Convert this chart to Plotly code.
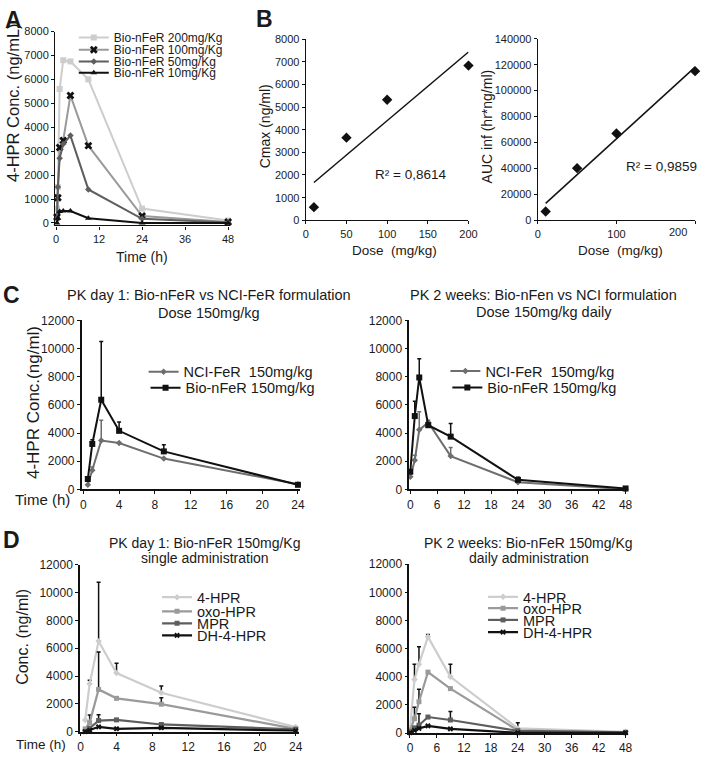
import numpy as np
import plotly.graph_objects as go

nan = float("nan")

# ---------------- data ----------------
# Panel A: 4-HPR plasma conc. by dose
A_time = [0.25, 0.5, 1, 2, 4, 9, 24, 48]
A_200 = [600, 1500, 5600, 6800, 6750, 6000, 600, 100]
A_100 = [250, 1050, 3150, 3450, 5330, 3230, 290, 40]
A_50 = [200, 1500, 2700, 3300, 3650, 1400, 170, 20]
A_10 = [0, 200, 480, 500, 500, 200, 0, 0]
A_names = ["Bio-nFeR 200mg/Kg", "Bio-nFeR 100mg/Kg", "Bio-nFeR 50mg/Kg", "Bio-nFeR 10mg/Kg"]

# Panel B: dose proportionality
B_dose = [10, 50, 100, 200]
B_cmax = [580, 3650, 5320, 6830]
B_auc = [6800, 40200, 67000, 115000]
B_r2 = ["R² = 0,8614", "R² = 0,9859"]

# Panel C left: day 1
C1_time = [0.5, 1, 2, 4, 9, 24]
C1_nci = [330, 1370, 3470, 3300, 2190, 370]
C1_nci_err = [nan, 230, 1440, nan, nan, nan]
C1_bio = [740, 3230, 6370, 4160, 2700, 330]
C1_bio_err = [nan, 300, 4140, 630, 470, nan]

# Panel C right: 2 weeks
C2_time = [0, 1, 2, 4, 9, 24, 48]
C2_nci = [910, 2070, 4230, 4750, 2370, 510, 20]
C2_nci_err = [nan, 350, 1280, 160, 600, nan, nan]
C2_bio = [1260, 5210, 7950, 4560, 3750, 680, 70]
C2_bio_err = [nan, 1050, 1330, nan, 930, 190, nan]
C_names = ["NCI-FeR  150mg/kg", "Bio-nFeR 150mg/kg"]

# Panel D left: metabolites day 1
D1_time = [0.5, 1, 2, 4, 9, 24]
D1_4hpr = [850, 3450, 6500, 4220, 2800, 330]
D1_4hpr_err = [nan, 250, 4250, 700, 480, nan]
D1_oxo = [200, 650, 3040, 2400, 1980, 200]
D1_oxo_err = [nan, 550, 2700, nan, 470, nan]
D1_mpr = [20, 250, 800, 850, 520, 170]
D1_mpr_err = [nan, nan, 420, nan, nan, nan]
D1_dh = [0, 100, 350, 210, 280, 70]

# Panel D right: metabolites 2 weeks
D2_time = [0, 1, 2, 4, 9, 24, 48]
D2_4hpr = [330, 3810, 4900, 6840, 4000, 330, 90]
D2_4hpr_err = [nan, 1090, 1240, 160, 900, 410, nan]
D2_oxo = [200, 1020, 2230, 4330, 3160, 190, 50]
D2_oxo_err = [nan, 820, 890, nan, nan, nan, nan]
D2_mpr = [90, 370, 560, 1140, 930, 160, 50]
D2_mpr_err = [nan, nan, 810, nan, 600, nan, nan]
D2_dh = [20, 190, 330, 510, 300, 20, 20]
D_names = ["4-HPR", "oxo-HPR", "MPR", "DH-4-HPR"]

# ---------------- helpers ----------------
W, H = 709, 760
FONT = "Liberation Sans, Arial, Helvetica, sans-serif"
TXT = "#1a1a1a"
LIGHT, MID, DARK, BLACK = "#cdcdcd", "#9a9a9a", "#5e5e5e", "#111111"


def fx(px):
    return px / W


def fy(py):
    return 1 - py / H


fig = go.Figure()
layout = dict(width=W, height=H, autosize=False, margin=dict(l=0, r=0, t=0, b=0),
              paper_bgcolor="white", plot_bgcolor="white", showlegend=True,
              font=dict(family=FONT, color=TXT))

panels = [
    # key, x domain px, y domain px (top,bottom), xrange, yrange, xticks, yticks, font size, line width
    ("A", (53, 231), (25, 222.5), (-0.27, 48.55), (-103, 8000), [0, 12, 24, 36, 48], list(range(0, 8001, 1000)), 11, 1.2),
    ("B1", (308, 473.5), (32.7, 217.3), (0, 200), (0, 8000), [0, 50, 100, 150, 200], list(range(0, 8001, 1000)), 11, 1.3),
    ("B2", (544, 704), (32.3, 217.3), (0, 200), (0, 140000), [0, 100, 200], list(range(0, 140001, 20000)), 11, 1.3),
    ("C1", (80, 302), (319.3, 491.5), (-0.19, 24.22), (0, 12000), list(range(0, 25, 4)), list(range(0, 12001, 2000)), 12, 1.5),
    ("C2", (413.3, 636), (319.3, 491.5), (-0.22, 48.59), (0, 12000), list(range(0, 49, 6)), list(range(0, 12001, 2000)), 12, 1.5),
    ("D1", (78.3, 301), (568.3, 738.3), (-0.08, 24.36), (0, 12000), list(range(0, 25, 4)), list(range(0, 12001, 2000)), 12, 1.5),
    ("D2", (413.3, 636), (567.7, 739.7), (-0.15, 48.59), (0, 12000), list(range(0, 49, 6)), list(range(0, 12001, 2000)), 12, 1.5),
]
axref = {}
for i, (key, xd, yd, xr, yr, xt, yt, fs, lw) in enumerate(panels):
    n = "" if i == 0 else str(i + 1)
    axref[key] = ("x" + n, "y" + n)
    xtext = [str(v) for v in xt]
    if key == "B2":
        xtext[-1] = ""  # the 200 label is drawn shifted left as in the original
    common = dict(showgrid=False, zeroline=False, showline=True, linecolor=BLACK, linewidth=lw,
                  ticks="outside", ticklen=3, tickwidth=1, tickcolor=BLACK,
                  tickfont=dict(family=FONT, size=fs, color=TXT))
    layout["xaxis" + n] = dict(domain=[fx(xd[0]), fx(xd[1])], range=list(xr), tickmode="array",
                               tickvals=xt, ticktext=xtext, anchor="y" + n, **common)
    layout["yaxis" + n] = dict(domain=[fy(yd[1]), fy(yd[0])], range=list(yr), tickmode="array",
                               tickvals=yt, ticktext=[str(v) for v in yt], anchor="x" + n, **common)

legend_count = [0]


def new_legend(text_x, y_px, size):
    legend_count[0] += 1
    name = "legend" if legend_count[0] == 1 else "legend%d" % legend_count[0]
    layout[name] = dict(x=fx(text_x - 40), y=fy(y_px), xanchor="left", yanchor="middle",
                        bgcolor="rgba(0,0,0,0)", borderwidth=0, itemwidth=30, tracegroupgap=0,
                        font=dict(family=FONT, size=size, color=TXT))
    return name


def err(vals, color):
    return dict(type="data", symmetric=False, array=vals, arrayminus=[0] * len(vals),
                color=color, thickness=1.5, width=2)


def series(key, x, y, name, color, symbol, msize, mcolor=None, lw=2, e=None, ecolor=None, leg=None):
    xa, ya = axref[key]
    tr = go.Scatter(x=x, y=y, name=name, mode="lines+markers", xaxis=xa, yaxis=ya,
                    line=dict(color=color, width=lw),
                    marker=dict(symbol=symbol, size=msize, color=mcolor or color, line=dict(width=0)),
                    cliponaxis=False, showlegend=leg is not None)
    if leg is not None:
        tr.update(legend=leg)
    if e is not None:
        tr.update(error_y=err(e, ecolor or color))
    fig.add_trace(tr)


# ---- Panel A ----
A_series = [A_200, A_100, A_50, A_10]
A_style = [(LIGHT, "square", 6, LIGHT), (MID, "x", 7, BLACK), (DARK, "diamond", 5, DARK), (BLACK, "triangle-up", 6, BLACK)]
A_rows = [31, 43.5, 55.5, 67]
for vals, nm, (c, s, ms, mc), ry in zip(A_series, A_names, A_style, A_rows):
    series("A", A_time, vals, nm, c, s, ms, mc, lw=2, leg=new_legend(112, ry, 12))

# ---- Panel B ----
for key, vals in (("B1", B_cmax), ("B2", B_auc)):
    xa, ya = axref[key]
    slope, icpt = np.polyfit(B_dose, vals, 1)
    xs = [min(B_dose), max(B_dose)]
    fig.add_trace(go.Scatter(x=xs, y=[slope * v + icpt for v in xs], mode="lines", xaxis=xa, yaxis=ya,
                             line=dict(color=BLACK, width=1.5), showlegend=False, cliponaxis=False))
    fig.add_trace(go.Scatter(x=B_dose, y=vals, mode="markers", xaxis=xa, yaxis=ya,
                             marker=dict(symbol="diamond", size=8, color=BLACK), showlegend=False,
                             cliponaxis=False))

# ---- Panel C ----
NCI_C = "#6e6e6e"
series("C1", C1_time, C1_nci, C_names[0], NCI_C, "diamond", 5, e=C1_nci_err, leg=new_legend(183, 371.7, 14.5))
series("C1", C1_time, C1_bio, C_names[1], BLACK, "square", 6, e=C1_bio_err, leg=new_legend(185, 388, 14.5))
series("C2", C2_time, C2_nci, C_names[0], NCI_C, "diamond", 5, e=C2_nci_err, leg=new_legend(490, 371, 14.5))
series("C2", C2_time, C2_bio, C_names[1], BLACK, "square", 6, e=C2_bio_err, leg=new_legend(492, 387.7, 14.5))

# ---- Panel D ----
D_style = [(LIGHT, "diamond", 5), (MID, "square", 5), (DARK, "square", 5), (BLACK, "x", 5)]
D1_vals = [(D1_4hpr, D1_4hpr_err), (D1_oxo, D1_oxo_err), (D1_mpr, D1_mpr_err), (D1_dh, None)]
D2_vals = [(D2_4hpr, D2_4hpr_err), (D2_oxo, D2_oxo_err), (D2_mpr, D2_mpr_err), (D2_dh, None)]
D1_rows = [601.3, 615.7, 628, 640.3]
D2_rows = [601, 612.5, 624.5, 637]
for (v, e), nm, (c, s, ms), ry in zip(D1_vals, D_names, D_style, D1_rows):
    series("D1", D1_time, v, nm, c, s, ms, e=e, ecolor=BLACK, lw=2.2, leg=new_legend(196.7, ry, 14.5))
for (v, e), nm, (c, s, ms), ry in zip(D2_vals, D_names, D_style, D2_rows):
    series("D2", D2_time, v, nm, c, s, ms, e=e, ecolor=BLACK, lw=2.2, leg=new_legend(528.3, ry, 14.5))

# ---------------- text ----------------
ann = []


def text(t, x, y, size, angle=0, bold=False, xanchor="center"):
    ann.append(dict(text=("<b>%s</b>" % t) if bold else t, x=fx(x), y=fy(y), xref="paper", yref="paper",
                    xanchor=xanchor, yanchor="middle", showarrow=False, textangle=angle,
                    font=dict(family=FONT, size=size, color=TXT)))


for letter, x, y in (("A", 10.5, 13.5), ("B", 265.5, 12.5), ("C", 8.5, 293.5), ("D", 8.5, 542.5)):
    text(letter, x, y, 23, bold=True)

# Panel A titles
text("4-HPR Conc. (ng/mL)", 10, 97, 16.5, angle=-90)
text("Time (h)", 141.7, 255, 14)
# Panel B titles
text("Cmax (ng/ml)", 266, 121, 14, angle=-90)
text("Dose\u00a0 (mg/kg)", 398, 248, 13.5)
text(B_r2[0], 415, 171, 13.5)
text("AUC inf (hr*ng/ml)", 492, 122, 14, angle=-90)
text("Dose\u00a0 (mg/kg)", 628, 248, 13.5)
text(B_r2[1], 670, 163, 13.5)
text("200", 687, 229, 11)
# Panel C titles
text("PK day 1: Bio-nFeR vs NCI-FeR formulation", 210, 293, 14.5)
text("Dose 150mg/kg", 210, 311.7, 14.5)
text("PK 2 weeks: Bio-nFen vs NCI formulation", 550, 293, 14.5)
text("Dose 150mg/kg daily", 550, 311, 14.5)
text("4-HPR Conc.(ng/ml)", 31, 403, 17, angle=-90)
text("Time (h)", 40, 501.7, 15)
# Panel D titles
text("PK day 1: Bio-nFeR 150mg/Kg", 205, 545.7, 14)
text("single administration", 205, 561, 14)
text("PK 2 weeks: Bio-nFeR 150mg/Kg", 535, 545.7, 14)
text("daily administration", 535, 561, 14)
text("Conc. (ng/ml)", 19, 642, 16, angle=-90)
text("Time (h)", 39, 751.7, 13.5)

layout["annotations"] = ann
fig.update_layout(**layout)
fig.write_html("out.html", config={"displayModeBar": False},
               post_script="document.body.style.margin='0px';")
